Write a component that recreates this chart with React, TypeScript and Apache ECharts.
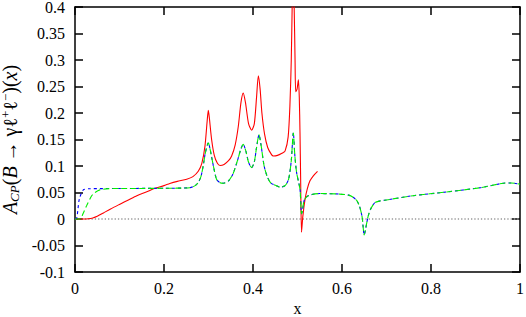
import React, { useEffect, useRef } from "react";
import * as echarts from "echarts";

const xTicks = [0, 0.2, 0.4, 0.6, 0.8, 1];
const yTicks = [-0.1, -0.05, 0, 0.05, 0.1, 0.15, 0.2, 0.25, 0.3, 0.35, 0.4];

const zeroLine: number[][] = [[0, 0], [1, 0]];

const redX = [0, 0.02, 0.03, 0.04, 0.05, 0.064, 0.08, 0.101, 0.12, 0.139, 0.16, 0.18, 0.2, 0.213, 0.23, 0.251, 0.265, 0.277, 0.285, 0.292, 0.297, 0.2996, 0.302, 0.307, 0.313, 0.32, 0.326, 0.335, 0.345, 0.352, 0.36, 0.367, 0.373, 0.378, 0.383, 0.39, 0.397, 0.403, 0.408, 0.412, 0.416, 0.42, 0.426, 0.433, 0.442, 0.4457, 0.455, 0.465, 0.472, 0.479, 0.483, 0.486, 0.488, 0.4895, 0.4925, 0.4945, 0.496, 0.499, 0.502, 0.504, 0.5056, 0.507, 0.509, 0.512, 0.517, 0.522, 0.528, 0.536, 0.545];
const redY = [0, 0, 0.0005, 0.002, 0.005, 0.0115, 0.019, 0.028, 0.036, 0.044, 0.051, 0.058, 0.063, 0.067, 0.071, 0.075, 0.08, 0.09, 0.105, 0.137, 0.185, 0.205, 0.19, 0.15, 0.12, 0.105, 0.101, 0.103, 0.11, 0.119, 0.14, 0.175, 0.22, 0.2375, 0.22, 0.18, 0.1675, 0.18, 0.23, 0.27, 0.245, 0.2, 0.16, 0.135, 0.121, 0.119, 0.12, 0.124, 0.128, 0.155, 0.215, 0.3, 0.4, 0.47, 0.4, 0.3, 0.24, 0.245, 0.2625, 0.23, 0.163, 0.08, -0.025, 0.005, 0.0375, 0.057, 0.072, 0.082, 0.09];

const blueX = [0, 0.004, 0.0097, 0.0187, 0.03, 0.1, 0.2, 0.258, 0.27, 0.277, 0.283, 0.288, 0.293, 0.2996, 0.304, 0.311, 0.318, 0.325, 0.333, 0.345, 0.355, 0.365, 0.372, 0.378, 0.384, 0.39, 0.397, 0.403, 0.408, 0.4135, 0.418, 0.425, 0.432, 0.44, 0.453, 0.461, 0.472, 0.48, 0.486, 0.4906, 0.494, 0.498, 0.5056, 0.509, 0.511, 0.515, 0.524, 0.55, 0.595, 0.615, 0.625, 0.633, 0.639, 0.645, 0.65, 0.655, 0.659, 0.665, 0.674, 0.685, 0.7, 0.76, 0.835, 0.91, 0.9625, 0.98, 1.0];
const blueY = [0, 0.002, 0.0375, 0.055, 0.057, 0.0575, 0.058, 0.059, 0.063, 0.069, 0.08, 0.1, 0.125, 0.144, 0.13, 0.1, 0.075, 0.069, 0.0675, 0.072, 0.085, 0.11, 0.13, 0.141, 0.128, 0.107, 0.097, 0.108, 0.135, 0.159, 0.14, 0.1, 0.08, 0.068, 0.0625, 0.06, 0.063, 0.075, 0.11, 0.1625, 0.12, 0.0875, 0.056, 0.01, 0.015, 0.035, 0.044, 0.048, 0.047, 0.045, 0.041, 0.035, 0.025, 0.005, -0.03, -0.01, 0.006, 0.02, 0.031, 0.034, 0.036, 0.044, 0.051, 0.059, 0.0675, 0.068, 0.0656];

const greenLowX = [0, 0.012, 0.018, 0.026, 0.0375, 0.045, 0.056, 0.085];
const greenLowY = [0, 0, 0.01, 0.025, 0.044, 0.05, 0.055, 0.0575];

const zip = (xs: number[], ys: number[]) => xs.map((x, i) => [x, ys[i]]);

export default function App() {
  const ref = useRef<HTMLDivElement>(null);
  useEffect(() => {
    document.body.style.margin = "0";
    const chart = echarts.init(ref.current!, null, { renderer: "svg" });
    const red = zip(redX, redY);
    const blue = zip(blueX, blueY);
    const green = [
      ...zip(greenLowX, greenLowY),
      ...blue.filter((p) => p[0] >= 0.1),
    ];
    const font = "Liberation Serif";
    const axisLine = { show: true, onZero: false, lineStyle: { color: "#000", width: 1.5 } };
    const tick = { show: true, inside: true, length: 8, lineStyle: { color: "#000", width: 1.5 } };
    const fmt = (v: number) => String(+v.toFixed(2));
    chart.setOption({
      animation: false,
      backgroundColor: "#fff",
      textStyle: { fontFamily: font, fontSize: 16, color: "#000" },
      grid: { left: 75, right: 6, top: 7, bottom: 45, containLabel: false, outerBoundsMode: "none" },
      xAxis: [
        {
          type: "value",
          min: 0,
          max: 1,
          interval: 0.2,
          position: "bottom",
          axisLine,
          axisTick: tick,
          splitLine: { show: false },
          axisLabel: { margin: 8, fontFamily: font, fontSize: 16, color: "#000", formatter: fmt },
          name: "x",
          nameLocation: "middle",
          nameGap: 25,
          nameTextStyle: { fontFamily: font, fontSize: 16, color: "#000" },
        },
        {
          type: "value",
          min: 0,
          max: 1,
          interval: 0.2,
          position: "top",
          axisLine,
          axisTick: tick,
          splitLine: { show: false },
          axisLabel: { show: false },
        },
      ],
      yAxis: [
        {
          type: "value",
          min: -0.1,
          max: 0.4,
          interval: 0.05,
          position: "left",
          axisLine,
          axisTick: tick,
          splitLine: { show: false },
          axisLabel: { margin: 10, fontFamily: font, fontSize: 16, color: "#000", formatter: fmt },
          name: "{i|A}{sub|CP}{n|(}{i|B}{n| → γℓ}{sup|+}{n|ℓ}{sup|−}{n|)(}{i|x}{n|)}",
          nameLocation: "middle",
          nameGap: 38,
          nameRotate: 90,
          nameTextStyle: {
            fontFamily: font,
            fontSize: 20,
            color: "#000",
            rich: {
              i: { fontFamily: font, fontStyle: "italic", fontSize: 20, lineHeight: 22, color: "#000" },
              n: { fontFamily: font, fontSize: 20, lineHeight: 22, color: "#000" },
              sub: { fontFamily: font, fontStyle: "italic", fontSize: 13, lineHeight: 13, verticalAlign: "bottom", color: "#000" },
              sup: { fontFamily: font, fontSize: 13, lineHeight: 13, verticalAlign: "top", color: "#000" },
            },
          },
        },
        {
          type: "value",
          min: -0.1,
          max: 0.4,
          interval: 0.05,
          position: "right",
          axisLine,
          axisTick: tick,
          splitLine: { show: false },
          axisLabel: { show: false },
        },
      ],
      series: [
        {
          type: "line",
          data: zeroLine,
          showSymbol: false,
          lineStyle: { color: "#999999", width: 1.3, type: [1.3, 2] },
          silent: true,
        },
        {
          type: "line",
          data: red,
          showSymbol: false,
          smooth: 0.25,
          clip: true,
          lineStyle: { color: "#ff0000", width: 1.1 },
        },
        {
          type: "line",
          data: blue,
          showSymbol: false,
          smooth: 0.25,
          clip: true,
          lineStyle: { color: "#0000ff", width: 1.1, type: [3, 3] },
        },
        {
          type: "line",
          data: green,
          showSymbol: false,
          smooth: 0.25,
          clip: true,
          lineStyle: { color: "#00ee00", width: 1.1, type: [6, 3] },
        },
      ],
    });
    return () => chart.dispose();
  }, []);
  return <div ref={ref} style={{ width: 526, height: 317 }} />;
}
